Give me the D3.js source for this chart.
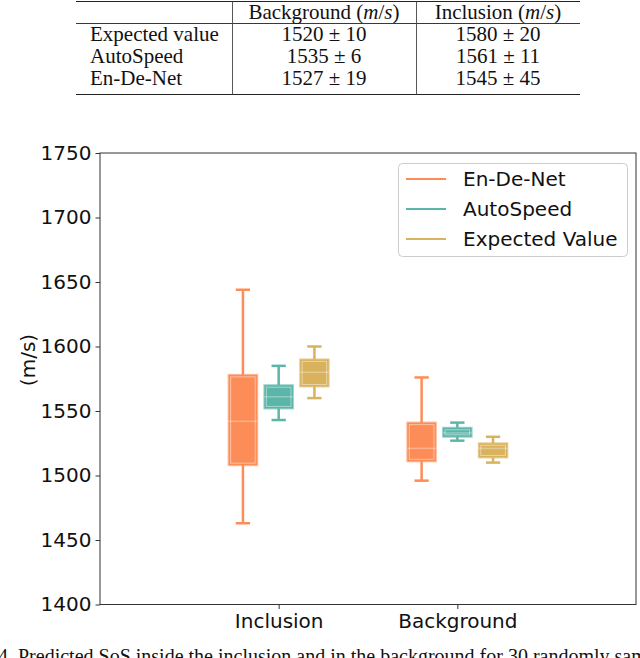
<!DOCTYPE html>
<html>
<head>
<meta charset="utf-8">
<script src="https://cdn.jsdelivr.net/npm/d3@7"></script>
<style>
  body { margin: 0; background: #fff; }
  svg { display: block; }
</style>
</head>
<body>
<div id="chart"></div>
<script>
// table values
var tableHeader = ["Background", "Inclusion"];
var tableRowNames = ["Expected value", "AutoSpeed", "En-De-Net"];
var tableBackground = ["1520 \u00b1 10", "1535 \u00b1 6", "1527 \u00b1 19"];
var tableInclusion = ["1580 \u00b1 20", "1561 \u00b1 11", "1545 \u00b1 45"];

// box plot values: [low whisker, q1, median, q3, high whisker] per group
var groups = ["Inclusion", "Background"];
var methods = ["En-De-Net", "AutoSpeed", "Expected Value"];
var enDeNet = [[1463, 1508, 1542, 1578, 1644], [1496, 1511, 1521, 1541, 1576]];
var autoSpeed = [[1543, 1552, 1561, 1570, 1585], [1527, 1530, 1533, 1537, 1541]];
var expectedValue = [[1560, 1569, 1580, 1590, 1600], [1510, 1514, 1521, 1525, 1530]];
var yTicks = [1400, 1450, 1500, 1550, 1600, 1650, 1700, 1750];

var colors = ["#fc8d59", "#5bb5a9", "#d9b25e"];
var series = [enDeNet, autoSpeed, expectedValue];

var W = 640, H = 658;
var svg = d3.select("#chart").append("svg")
  .attr("width", W).attr("height", H);

// ---- table ----
var serif = "'Liberation Serif', 'Times New Roman', serif";
var tLeft = 76, tRight = 580, colA = 232, colB = 416;
var tbl = svg.append("g").style("font-family", serif).style("font-size", "21px").attr("fill", "#111");
tbl.append("line").attr("x1", tLeft).attr("x2", tRight).attr("y1", 1.5).attr("y2", 1.5)
  .attr("stroke", "#222").attr("stroke-width", 1.2);
tbl.append("line").attr("x1", tLeft).attr("x2", tRight).attr("y1", 23.5).attr("y2", 23.5)
  .attr("stroke", "#222").attr("stroke-width", 0.9);
tbl.append("line").attr("x1", tLeft).attr("x2", tRight).attr("y1", 94.5).attr("y2", 94.5)
  .attr("stroke", "#222").attr("stroke-width", 1.2);
[colA, colB].forEach(function(x){
  tbl.append("line").attr("x1", x + 0.5).attr("x2", x + 0.5).attr("y1", 1.5).attr("y2", 94.5)
    .attr("stroke", "#444").attr("stroke-width", 0.9);
});
var colCenters = [(colA + colB) / 2, (colB + tRight) / 2];
tableHeader.forEach(function(h, i){
  var t = tbl.append("text").attr("x", colCenters[i]).attr("y", 19).attr("text-anchor", "middle");
  t.append("tspan").text(h + " (");
  t.append("tspan").style("font-style", "italic").text("m");
  t.append("tspan").text("/");
  t.append("tspan").style("font-style", "italic").text("s");
  t.append("tspan").text(")");
});
var rowY = [41, 63, 85];
tableRowNames.forEach(function(r, i){
  tbl.append("text").attr("x", 90).attr("y", rowY[i]).text(r);
  tbl.append("text").attr("x", colCenters[0]).attr("y", rowY[i]).attr("text-anchor", "middle").text(tableBackground[i]);
  tbl.append("text").attr("x", colCenters[1]).attr("y", rowY[i]).attr("text-anchor", "middle").text(tableInclusion[i]);
});

// ---- chart ----
var sans = "'DejaVu Sans', sans-serif";
var x = d3.scaleLinear().domain([0, 3]).range([100, 636]);
var y = d3.scaleLinear().domain([1400, 1750]).range([604.5, 153]);
var offsets = [-0.2, 0, 0.2];
var boxW = x(0.16) - x(0);
var capW = boxW / 2;

var plot = svg.append("g");

series.forEach(function(s, m){
  s.forEach(function(st, g){
    var cx = x(g + 1 + offsets[m]);
    var c = colors[m];
    var bg = plot.append("g");
    // whiskers
    bg.append("line").attr("x1", cx).attr("x2", cx).attr("y1", y(st[0])).attr("y2", y(st[1]))
      .attr("stroke", c).attr("stroke-width", 2.5);
    bg.append("line").attr("x1", cx).attr("x2", cx).attr("y1", y(st[3])).attr("y2", y(st[4]))
      .attr("stroke", c).attr("stroke-width", 2.5);
    // caps
    [st[0], st[4]].forEach(function(v){
      bg.append("line").attr("x1", cx - capW / 2).attr("x2", cx + capW / 2)
        .attr("y1", y(v)).attr("y2", y(v)).attr("stroke", c).attr("stroke-width", 2.5);
    });
    // box
    bg.append("rect").attr("x", cx - boxW / 2).attr("y", y(st[3]))
      .attr("width", boxW).attr("height", y(st[1]) - y(st[3]))
      .attr("fill", c).attr("stroke", c).attr("stroke-opacity", 0.6).attr("stroke-width", 2);
    bg.append("rect").attr("x", cx - boxW / 2 + 2).attr("y", y(st[3]) + 2)
      .attr("width", boxW - 4).attr("height", Math.max(0, y(st[1]) - y(st[3]) - 4))
      .attr("fill", "none").attr("stroke", "#fff").attr("stroke-opacity", 0.45).attr("stroke-width", 1);
    // median
    bg.append("line").attr("x1", cx - boxW / 2).attr("x2", cx + boxW / 2)
      .attr("y1", y(st[2])).attr("y2", y(st[2]))
      .attr("stroke", "#fff").attr("stroke-opacity", 0.3).attr("stroke-width", 1.5);
  });
});

// frame
plot.append("rect").attr("x", x(0)).attr("y", y(1750)).attr("width", x(3) - x(0)).attr("height", y(1400) - y(1750))
  .attr("fill", "none").attr("stroke", "#333").attr("stroke-width", 1);

var yAxis = svg.append("g").attr("transform", "translate(" + x(0) + ",0)")
  .call(d3.axisLeft(y).tickValues(yTicks).tickFormat(d3.format("d")).tickSize(4.5).tickPadding(4));
var xAxis = svg.append("g").attr("transform", "translate(0," + y(1400) + ")")
  .call(d3.axisBottom(x).tickValues([1, 2]).tickFormat(function(d){ return groups[d - 1]; }).tickSize(4.5).tickPadding(5));
[yAxis, xAxis].forEach(function(a){
  a.select(".domain").remove();
  a.selectAll("line").attr("stroke", "#333");
  a.selectAll("text").style("font-family", sans).style("font-size", "20px").attr("fill", "#111");
});

svg.append("text")
  .attr("transform", "translate(35,360) rotate(-90)")
  .attr("text-anchor", "middle")
  .style("font-family", sans).style("font-size", "20px").attr("fill", "#111")
  .text("(m/s)");

// legend
var lg = svg.append("g");
lg.append("rect").attr("x", 398.5).attr("y", 163.5).attr("width", 229).attr("height", 93).attr("rx", 4)
  .attr("fill", "#fff").attr("fill-opacity", 0.8).attr("stroke", "#ccc");
methods.forEach(function(name, i){
  var ly = 179 + i * 30;
  lg.append("line").attr("x1", 406).attr("x2", 446).attr("y1", ly).attr("y2", ly)
    .attr("stroke", colors[i]).attr("stroke-width", 2);
  lg.append("text").attr("x", 463).attr("y", ly + 7)
    .style("font-family", sans).style("font-size", "20px").attr("fill", "#111").text(name);
});

// caption (cut off by the page edge, as in the source)
svg.append("text").attr("x", -2).attr("y", 663)
  .style("font-family", serif).style("font-size", "20px").attr("fill", "#111")
  .text("4. Predicted SoS inside the inclusion and in the background for 30 randomly sampled test");
</script>
</body>
</html>
